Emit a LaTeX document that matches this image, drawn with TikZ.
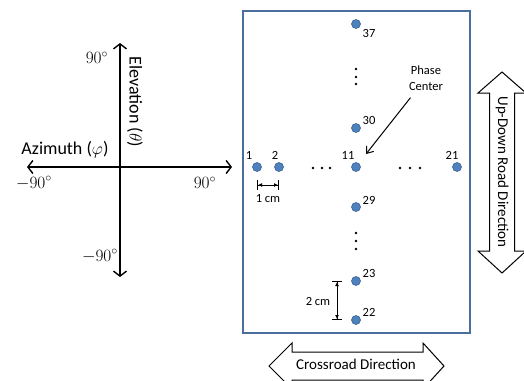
\documentclass[tikz,border=0pt]{standalone}
\usepackage{amsmath}
\usepackage{fontspec}
\setmainfont{Carlito}
\usepackage{tikz}
\usetikzlibrary{arrows.meta,calc,positioning}
\definecolor{dotblue}{HTML}{4F81BD}
\definecolor{dotedge}{HTML}{3A6496}
\definecolor{boxblue}{HTML}{4A6E9E}
\tikzset{
  lbl/.style={font=\fontsize{15}{17}\selectfont,inner sep=0pt},
  axlbl/.style={font=\fontsize{18}{20}\selectfont,inner sep=0pt},
  deg/.style={font=\fontsize{17}{19}\selectfont,inner sep=0pt},
  num/.style={font=\fontsize{12.5}{14}\selectfont,inner sep=0pt},
  elem/.style={circle,fill=dotblue,draw=dotedge,line width=0.6pt,minimum size=9pt,inner sep=0pt},
  axis/.style={line width=1.4pt,{Straight Barb[length=5pt,width=13pt]}-{Straight Barb[length=5pt,width=13pt]}},
  dim/.style={line width=1pt,{Bar[width=10pt]Latex[length=4pt,width=4pt]}-{Latex[length=4pt,width=4pt]Bar[width=10pt]}},
  bigarrow/.style={draw=black,fill=white,line width=1pt}
}
\begin{document}
\begin{tikzpicture}[x=1pt,y=-1pt]
      \useasboundingbox (0,0) rectangle (524,380);

      % angle axes
      \coordinate (azL) at (27,167);
      \coordinate (azR) at (232,167);
      \coordinate (elT) at (120,43);
      \coordinate (elB) at (120,277);
      \draw[axis] (azL) -- (azR);
      \draw[axis] (elB) -- (elT);

      \node[deg] at (97,58) (elmax) {$90^\circ$};
      \node[deg] at (100,256) (elmin) {$-90^\circ$};
      \node[deg] at (34,183) (azmin) {$-90^\circ$};
      \node[deg] at (205,183) (azmax) {$90^\circ$};
      \node[axlbl] at (65,150) (azim) {Azimuth ($\varphi$)};
      \node[axlbl,rotate=-90] at (135,102) (elev) {Elevation ($\theta$)};

      % array board
      \draw[boxblue,line width=1.2pt] (243,11) rectangle (470,333);

      \foreach \n/\x/\y in {1/257/167, 2/279/167, 11/356/167, 21/457/167,
                            37/356/24, 30/356/128, 29/356/207, 23/356/281, 22/356/320}
        \node[elem] at (\x,\y) (d\n) {};

      \node[num] at (249,155) (l1) {1};
      \node[num] at (275,155) (l2) {2};
      \node[num] at (348,155) (l11) {11};
      \node[num] at (452,155) (l21) {21};
      \node[num] at (369,33) (l37) {37};
      \node[num] at (369,120) (l30) {30};
      \node[num] at (369,200) (l29) {29};
      \node[num] at (369,273) (l23) {23};
      \node[num] at (369,312) (l22) {22};

      % skipped elements
      \foreach \y in {69,77,84,233,241,249}
        \fill (356,\y) circle (1.4pt);
      \foreach \x in {313,322,330,400,410,420}
        \fill (\x,168) circle (1.4pt);

      % phase center
      \node[num,align=center] at (426,78) (phase) {Phase\\[2pt]Center};
      \coordinate (pcTip) at (366,154);
      \draw[line width=1pt,-{Straight Barb[length=6pt,width=9pt]},shorten <=9pt] (phase) -- (pcTip);

      % spacings
      \coordinate (s1a) at ($(d1)+(0,18)$);
      \coordinate (s1b) at ($(d2)+(0,18)$);
      \draw[dim] (s1a) -- (s1b);
      \node[num] at (268,199) (s1) {1 cm};
      \coordinate (s2a) at ($(d23)+(-19,0)$);
      \coordinate (s2b) at ($(d22)+(-19,0)$);
      \draw[dim] (s2a) -- (s2b);
      \node[num] at (318,301) (s2) {2 cm};

      % road directions
      \draw[bigarrow] (502,72) -- (526,93) -- (514.5,93) -- (514.5,251) -- (526,251)
        -- (502,273) -- (478,251) -- (489.5,251) -- (489.5,93) -- (478,93) -- cycle;
      \node[lbl,rotate=-90] at (502,172) (updown) {Up-Down Road Direction};
      \draw[bigarrow] (269,366) -- (292,343) -- (292,352) -- (423,352) -- (423,343)
        -- (444,366) -- (423,389) -- (423,380) -- (292,380) -- (292,389) -- cycle;
      \node[lbl] at (356,364) (cross) {Crossroad Direction};
\end{tikzpicture}
\end{document}
